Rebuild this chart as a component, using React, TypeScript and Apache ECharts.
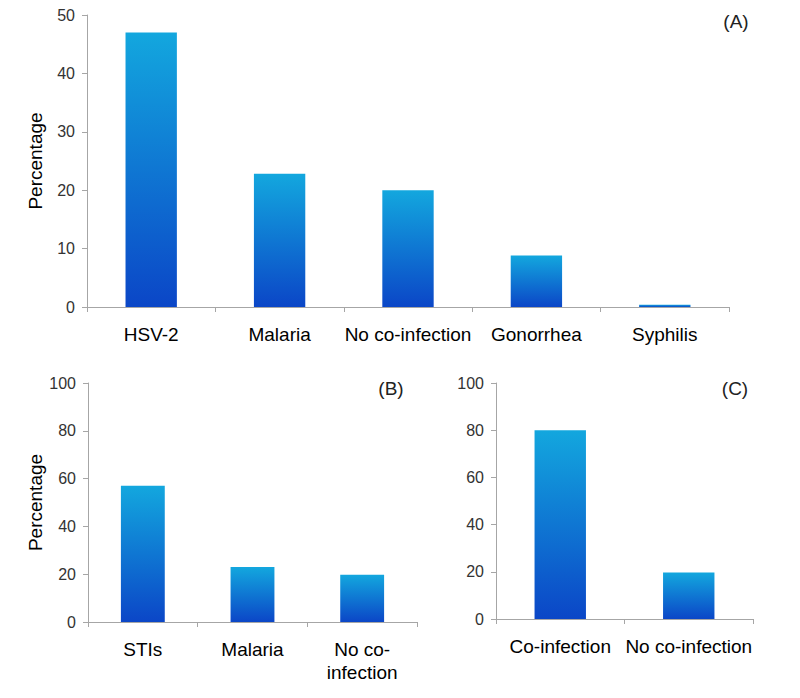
import React, { useEffect, useRef } from "react";
import * as echarts from "echarts";

const catsA = ["HSV-2", "Malaria", "No co-infection", "Gonorrhea", "Syphilis"];
const valsA = [47, 22.8, 20, 8.8, 0.4];
const catsB = ["STIs", "Malaria", "No co-infection"];
const valsB = [57, 23, 19.8];
const catsC = ["Co-infection", "No co-infection"];
const valsC = [80, 19.7];
const panelLabels = ["(A)", "(B)", "(C)"];

const FONT = "'Liberation Sans', Arial, sans-serif";
const AXIS_COLOR = "#a6a6a6";

const barColor = () =>
  new echarts.graphic.LinearGradient(0, 0, 0, 1, [
    { offset: 0, color: "#13a7de" },
    { offset: 1, color: "#0b46c7" },
  ]);

const xAxisBase = (gridIndex: number, data: string[], wrap: boolean) => ({
  type: "category",
  gridIndex,
  data,
  axisLine: { lineStyle: { color: AXIS_COLOR, width: 1 } },
  axisTick: { show: true, length: 5, lineStyle: { color: AXIS_COLOR } },
  axisLabel: {
    color: "#000",
    fontSize: 19,
    fontFamily: FONT,
    margin: 16,
    lineHeight: 23,
    interval: 0,
    formatter: (v: string) => (wrap && v === "No co-infection" ? "No co-\ninfection" : v),
  },
});

const yAxisBase = (gridIndex: number, max: number, interval: number, name: string) => ({
  type: "value",
  gridIndex,
  min: 0,
  max,
  interval,
  name,
  nameLocation: "middle",
  nameGap: 42,
  nameRotate: 90,
  nameTextStyle: { color: "#000", fontSize: 19, fontFamily: FONT },
  splitLine: { show: false },
  axisLine: { show: true, lineStyle: { color: AXIS_COLOR, width: 1 } },
  axisTick: { show: true, length: 5, lineStyle: { color: AXIS_COLOR } },
  axisLabel: { color: "#333", fontSize: 16, fontFamily: FONT, margin: 12 },
});

export default function App() {
  const ref = useRef<HTMLDivElement>(null);
  useEffect(() => {
    if (!ref.current) return;
    const chart = echarts.init(ref.current, null, { renderer: "svg" });
    const barSeries = (idx: number, data: number[]) => ({
      type: "bar",
      xAxisIndex: idx,
      yAxisIndex: idx,
      data,
      barWidth: "40%",
      itemStyle: { color: barColor() },
    });
    const label = (text: string, x: number, y: number) => ({
      type: "text",
      x,
      y,
      style: { text, fontSize: 19, fontFamily: FONT, fill: "#222", align: "center", verticalAlign: "middle" },
    });
    chart.setOption({
      animation: false,
      backgroundColor: "#fff",
      grid: [
        { left: 87, top: 15, width: 642, height: 292 },
        { left: 88, top: 383, width: 329, height: 239 },
        { left: 496, top: 383, width: 257, height: 236 },
      ],
      xAxis: [xAxisBase(0, catsA, false), xAxisBase(1, catsB, true), xAxisBase(2, catsC, false)],
      yAxis: [
        yAxisBase(0, 50, 10, "Percentage"),
        yAxisBase(1, 100, 20, "Percentage"),
        yAxisBase(2, 100, 20, ""),
      ],
      series: [barSeries(0, valsA), barSeries(1, valsB), barSeries(2, valsC)],
      graphic: [
        label(panelLabels[0], 736, 21),
        label(panelLabels[1], 391, 388),
        label(panelLabels[2], 735, 388),
      ],
    });
    return () => chart.dispose();
  }, []);
  return (
    <div
      ref={ref}
      style={{ position: "fixed", left: 0, top: 0, width: 800, height: 698, background: "#fff" }}
    />
  );
}
